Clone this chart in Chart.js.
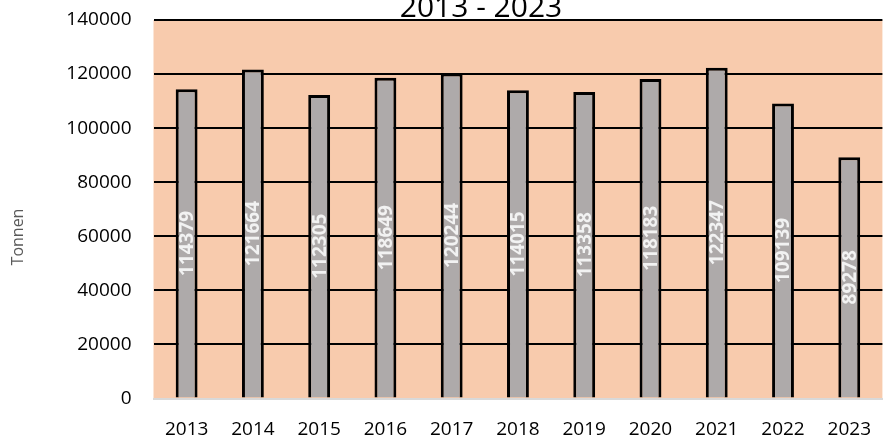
<!DOCTYPE html>
<html>
<head>
<meta charset="utf-8">
<script src="https://cdn.jsdelivr.net/npm/chart.js@4"></script>
<style>
  html, body { margin: 0; padding: 0; overflow: hidden; background: #fff; }
  #wrap { position: absolute; left: 0; top: -20px; width: 891px; height: 466px; }
</style>
</head>
<body>
<div id="wrap"><canvas id="chart"></canvas></div>
<script>
// Jahreswerte 2013 - 2023 (Tonnen)
const years = ['2013', '2014', '2015', '2016', '2017', '2018', '2019', '2020', '2021', '2022', '2023'];
const tonnes = [114379, 121664, 112305, 118649, 120244, 114015, 113358, 118183, 122347, 109139, 89278];
const titleText = '2013 - 2023';
const axisTitle = 'Tonnen';

// Hintergrund der Zeichenfläche, Titel und senkrechte Werte
const decor = {
    id: 'decor',
    beforeDraw(chart) {
        const { ctx, chartArea: a } = chart;
        ctx.save();
        ctx.fillStyle = '#f8cbad';
        ctx.fillRect(a.left, a.top, a.right - a.left, a.bottom - a.top);
        ctx.restore();
    },
    afterDraw(chart) {
        const { ctx } = chart;
        ctx.save();
        ctx.fillStyle = '#000';
        ctx.font = '30px "Open Sans"';
        ctx.textAlign = 'center';
        ctx.textBaseline = 'alphabetic';
        ctx.fillText(titleText, 481, 37);

        ctx.fillStyle = '#595959';
        ctx.font = '16px "Open Sans"';
        ctx.translate(18, 257);
        ctx.rotate(-Math.PI / 2);
        ctx.textBaseline = 'middle';
        ctx.fillText(axisTitle, 0, 0);
        ctx.restore();

        const meta = chart.getDatasetMeta(0);
        ctx.save();
        ctx.fillStyle = '#f2f2f2';
        ctx.font = 'bold 19px "Open Sans"';
        ctx.textAlign = 'center';
        ctx.textBaseline = 'middle';
        meta.data.forEach((bar, i) => {
            ctx.save();
            ctx.translate(bar.x, (bar.y + bar.base) / 2);
            ctx.rotate(-Math.PI / 2);
            ctx.fillText(String(tonnes[i]), 0, 1);
            ctx.restore();
        });
        ctx.restore();
    }
};

new Chart(document.getElementById('chart'), {
    type: 'bar',
    data: {
        labels: years,
        datasets: [{
            data: tonnes,
            backgroundColor: '#aeaaaa',
            borderColor: '#000',
            borderWidth: 3,
            borderSkipped: 'bottom',
            barPercentage: 0.33,
            categoryPercentage: 1
        }]
    },
    options: {
        responsive: true,
        maintainAspectRatio: false,
        animation: false,
        layout: { padding: { top: 40, right: 0, left: 0, bottom: 0 } },
        plugins: {
            legend: { display: false },
            tooltip: { enabled: false }
        },
        scales: {
            x: {
                grid: { display: false, drawTicks: false },
                border: { color: '#d9d9d9', width: 2 },
                ticks: { color: '#000', font: { family: 'Open Sans', size: 19 }, padding: 20 },
                afterFit: s => { s.height = 47.5; }
            },
            y: {
                min: 0,
                max: 140000,
                grid: { color: '#000', lineWidth: 2, drawTicks: false },
                border: { display: false },
                ticks: {
                    stepSize: 20000,
                    color: '#000',
                    font: { family: 'Open Sans', size: 19 },
                    padding: 22,
                    callback: v => String(v)
                },
                afterFit: s => { s.width = 153.5; }
            }
        }
    },
    plugins: [decor]
});
</script>
</body>
</html>
